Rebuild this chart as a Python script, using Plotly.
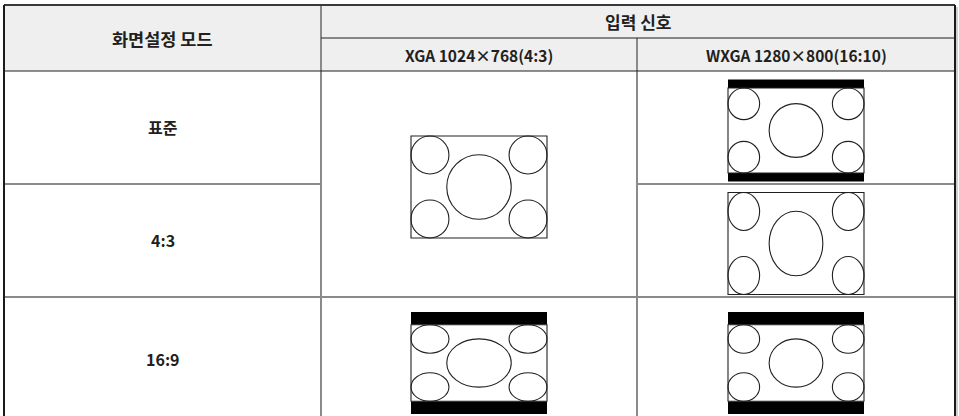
import plotly.graph_objects as go

# ---- data ----
header_mode = "화면설정 모드"
header_signal = "입력 신호"
modes = ["표준", "4:3", "16:9"]
mode_aspect = [None, 4 / 3, 16 / 9]          # None = native (same as input)
signals = ["XGA 1024×768(4:3)", "WXGA 1280×800(16:10)"]
signal_aspect = [4 / 3, 16 / 10]
corner_diam = 0.372   # corner circle diameter (fraction of picture height)
center_diam = 0.632   # central circle diameter (fraction of picture height)

# ---- layout geometry (pixels) ----
W, H = 959, 416
col_edges = [4, 321, 637, 955]
head_top, head_mid, head_bot = 5, 38, 71
row_edges = [71, 184, 297, 423]
FW, FH = 136, 102
DARK = "#231f20"
GRID = "#8a8a8a"
FONT = "Noto Sans CJK KR"

fig = go.Figure()
fig.add_trace(go.Scatter(x=[], y=[], hoverinfo="skip"))
shapes = []
annotations = []


def rect(x0, y0, x1, y1, fill=None, line=None, lw=0):
    shapes.append(dict(type="rect", xref="x", yref="y", x0=x0, y0=y0, x1=x1, y1=y1,
                       fillcolor=fill if fill else "rgba(0,0,0,0)",
                       line=dict(color=line if line else "rgba(0,0,0,0)", width=lw)))


def line(x0, y0, x1, y1, color, width):
    shapes.append(dict(type="line", xref="x", yref="y", x0=x0, y0=y0, x1=x1, y1=y1,
                       line=dict(color=color, width=width)))


def ellipse(x0, y0, x1, y1):
    shapes.append(dict(type="circle", xref="x", yref="y", x0=x0, y0=y0, x1=x1, y1=y1,
                       fillcolor="rgba(0,0,0,0)", line=dict(color=DARK, width=1.1)))


def text(x, y, s, size=14):
    annotations.append(dict(x=x, y=y, xref="x", yref="y", text=s, showarrow=False,
                            font=dict(family=FONT, size=size, color=DARK, weight="bold"),
                            xanchor="center", yanchor="middle"))


def screen(cx, cy, sig_a, disp_a):
    x0 = cx - FW / 2
    y0 = cy - FH / 2
    cw = FW
    ch = FW / disp_a
    bar = (FH - ch) / 2
    if bar > 0.5:
        rect(x0, y0, x0 + FW, y0 + bar, fill="black")
        rect(x0, y0 + FH - bar, x0 + FW, y0 + FH, fill="black")
    top = y0 + bar
    rect(x0, top, x0 + cw, top + ch, fill="white", line=DARK, lw=1.1)
    sx = cw / sig_a
    sy = ch
    d = corner_diam
    for ux in (0, sig_a - d):
        for uy in (0, 1 - d):
            ellipse(x0 + ux * sx, top + uy * sy, x0 + (ux + d) * sx, top + (uy + d) * sy)
    D = center_diam
    ellipse(x0 + (sig_a / 2 - D / 2) * sx, top + (0.5 - D / 2) * sy,
            x0 + (sig_a / 2 + D / 2) * sx, top + (0.5 + D / 2) * sy)


# header background
rect(col_edges[0], head_top, col_edges[-1], head_bot, fill="#efefef")

# diagrams (merge vertically adjacent cells with identical display)
for j, sa in enumerate(signal_aspect):
    disp = [sa if a is None else a for a in mode_aspect]
    cx = (col_edges[j + 1] + col_edges[j + 2]) / 2
    i = 0
    while i < len(modes):
        k = i
        while k + 1 < len(modes) and abs(disp[k + 1] - disp[i]) < 1e-9:
            k += 1
        cy = (row_edges[i] + row_edges[k + 1]) / 2 + 3
        screen(cx, cy, sa, disp[i])
        if k + 1 < len(modes):
            line(col_edges[j + 1], row_edges[k + 1], col_edges[j + 2], row_edges[k + 1], GRID, 2)
        i = k + 1

# row separators in first column
for i in range(1, len(modes)):
    line(col_edges[0], row_edges[i], col_edges[1], row_edges[i], GRID, 2)

# vertical dividers
line(col_edges[1], head_top, col_edges[1], H + 10, GRID, 2)
line(col_edges[2], head_mid, col_edges[2], H + 10, GRID, 2)

# header lines
line(col_edges[1], head_mid, col_edges[-1], head_mid, DARK, 1.2)
line(col_edges[0], head_bot, col_edges[-1], head_bot, DARK, 1.2)
line(col_edges[0], head_top, col_edges[-1], head_top, "#3a3a3a", 2)
# outer borders
line(col_edges[0], head_top, col_edges[0], H + 10, "#1a1a1a", 2)
line(col_edges[-1], head_top, col_edges[-1], H + 10, "#1a1a1a", 2)
line(col_edges[-1] + 2, head_top + 2, col_edges[-1] + 2, H + 10, "#cfcfcf", 2)

# texts
text((col_edges[0] + col_edges[1]) / 2, (head_top + head_bot) / 2, header_mode, 17.5)
text((col_edges[1] + col_edges[-1]) / 2, (head_top + head_mid) / 2, header_signal, 17)
for j, s in enumerate(signals):
    text((col_edges[j + 1] + col_edges[j + 2]) / 2, (head_mid + head_bot) / 2, s, 15.5)
for i, m in enumerate(modes):
    text((col_edges[0] + col_edges[1]) / 2, (row_edges[i] + row_edges[i + 1]) / 2 - 1, m, 16)

fig.update_layout(
    width=W, height=H, margin=dict(l=0, r=0, t=0, b=0),
    paper_bgcolor="white", plot_bgcolor="white", showlegend=False,
    xaxis=dict(range=[0, W], visible=False, fixedrange=True),
    yaxis=dict(range=[H, 0], visible=False, fixedrange=True),
    shapes=shapes, annotations=annotations,
)
fig.write_html("out.html", config={"displayModeBar": False},
               post_script="document.body.style.margin='0px';document.body.style.overflow='hidden';")
